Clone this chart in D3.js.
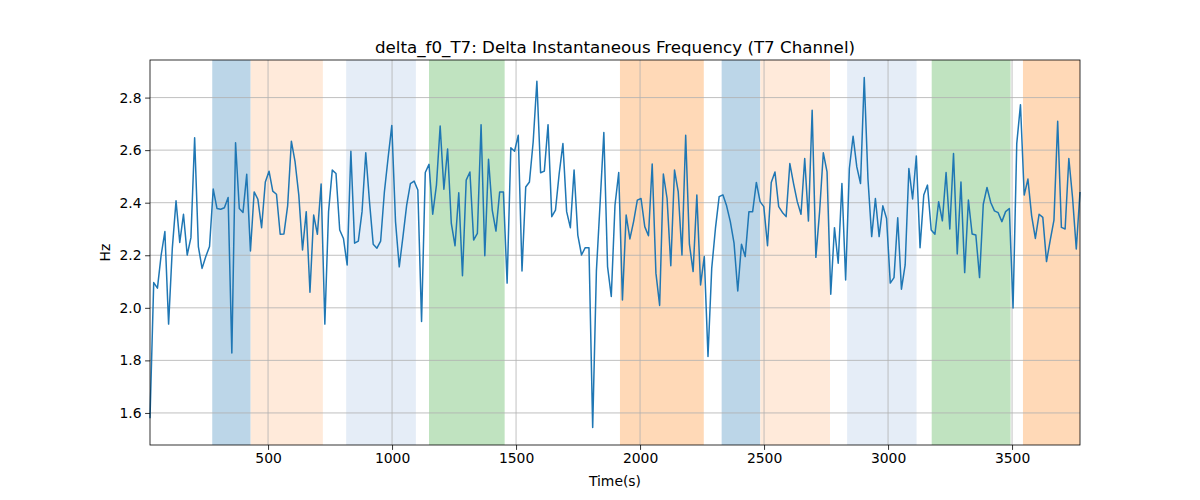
<!DOCTYPE html>
<html><head><meta charset="utf-8">
<script src="https://cdn.jsdelivr.net/npm/d3@7"></script>
<style>body{margin:0;background:#fff}svg{display:block}text{font-family:"DejaVu Sans",sans-serif}</style>
</head><body><svg id="c" width="1200" height="500"></svg>
<script>
const tStart = 24, tStep = 15;
const values = [1.58,2.096,2.075,2.201,2.29,1.938,2.227,2.407,2.249,2.356,2.201,2.267,2.647,2.233,2.15,2.195,2.233,2.452,2.378,2.375,2.381,2.42,1.828,2.628,2.378,2.363,2.508,2.216,2.441,2.413,2.305,2.479,
2.52,2.444,2.432,2.28,2.281,2.388,2.634,2.555,2.429,2.22,2.366,2.059,2.353,2.28,2.471,1.938,2.366,2.524,2.511,2.296,2.264,2.163,2.596,2.246,2.254,2.366,2.59,2.404,2.242,2.227,2.254,
2.44,2.57,2.694,2.328,2.156,2.271,2.391,2.473,2.482,2.448,1.948,2.515,2.546,2.356,2.467,2.692,2.451,2.604,2.321,2.236,2.438,2.122,2.486,2.517,2.258,2.283,2.697,2.198,2.565,
2.372,2.292,2.441,2.441,2.094,2.609,2.596,2.657,2.14,2.46,2.479,2.631,2.862,2.514,2.52,2.697,2.347,2.372,2.511,2.625,2.366,2.305,2.524,2.277,2.201,2.229,2.229,1.545,2.14,2.40,2.667,
2.157,2.043,2.391,2.515,2.03,2.353,2.262,2.328,2.41,2.416,2.309,2.274,2.547,2.132,2.009,2.509,2.416,2.16,2.524,2.441,2.201,2.657,2.242,2.138,2.429,2.087,2.195,1.815,2.15,2.302,2.423,
2.43,2.388,2.328,2.246,2.064,2.242,2.195,2.366,2.366,2.477,2.404,2.385,2.236,2.477,2.517,2.385,2.363,2.347,2.549,2.473,2.404,2.356,2.568,2.33,2.752,2.192,2.366,2.59,2.517,2.052,2.305,
2.17,2.473,2.106,2.53,2.653,2.536,2.473,2.876,2.49,2.271,2.416,2.271,2.388,2.34,2.094,2.115,2.343,2.071,2.163,2.53,2.414,2.578,2.229,2.429,2.467,2.296,2.28,2.404,2.331,2.515,2.3,
2.587,2.205,2.479,2.134,2.41,2.281,2.277,2.115,2.394,2.458,2.401,2.369,2.362,2.328,2.366,2.378,1.999,2.625,2.773,2.429,2.49,2.35,2.264,2.356,2.344,2.176,2.258,2.334,2.71,2.306,2.3,2.568,2.419,2.224,2.441];
const times = values.map((v,i)=>tStart + i*tStep);
const bandStarts = [275,430,815,1149,1919,2329,2485,2835,3176,3544];
const bandEnds   = [430,721,1096,1454,2257,2485,2766,3115,3494,3774];
const bandKinds  = ["blue","lorange","lblue","green","orange","blue","lorange","lblue","green","orange"];
const bandColors = {blue:"#bcd6e8", lorange:"#ffeada", lblue:"#e5edf7", green:"#c0e3c0", orange:"#ffd9b7"};
const xTicks = [500,1000,1500,2000,2500,3000,3500];
const yTicks = [1.6,1.8,2.0,2.2,2.4,2.6,2.8];
const title = "delta_f0_T7: Delta Instantaneous Frequency (T7 Channel)";

const svg = d3.select("#c");
const L=150, R=1080, T=60, B=445;
const x = d3.scaleLinear().domain([tStart, times[times.length-1]]).range([L,R]);
const y = d3.scaleLinear().domain([1.478, 2.943]).range([B,T]);

svg.append("g").selectAll("rect").data(bandStarts).join("rect")
  .attr("x",(d)=>x(d)).attr("width",(d,i)=>x(bandEnds[i])-x(d))
  .attr("y",T).attr("height",B-T).attr("fill",(d,i)=>bandColors[bandKinds[i]]);

const grid = svg.append("g").attr("stroke","#b0b0b0").attr("stroke-width",0.8);
grid.selectAll(".gx").data(xTicks).join("line").attr("x1",d=>x(d)).attr("x2",d=>x(d)).attr("y1",T).attr("y2",B);
grid.selectAll(".gy").data(yTicks).join("line").attr("y1",d=>y(d)).attr("y2",d=>y(d)).attr("x1",L).attr("x2",R);

svg.append("path").datum(values).attr("fill","none").attr("stroke","#1f77b4").attr("stroke-width",1.5)
  .attr("stroke-linejoin","round")
  .attr("d", d3.line().x((d,i)=>x(times[i])).y(d=>y(d)));

const xa = svg.append("g").attr("transform",`translate(0,${B})`)
  .call(d3.axisBottom(x).tickValues(xTicks).tickSize(4.9).tickPadding(3.5).tickFormat(d3.format("d")));
const ya = svg.append("g").attr("transform",`translate(${L},0)`)
  .call(d3.axisLeft(y).tickValues(yTicks).tickSize(4.9).tickPadding(3.5).tickFormat(d3.format(".1f")));
[xa,ya].forEach(a=>{a.select(".domain").remove(); a.selectAll("line").attr("stroke","#000").attr("stroke-width",0.8);
  a.selectAll("text").attr("font-size",13.9).attr("fill","#000").attr("font-family","DejaVu Sans");});

svg.append("rect").attr("x",L).attr("y",T).attr("width",R-L).attr("height",B-T)
  .attr("fill","none").attr("stroke","#000").attr("stroke-width",0.8);

svg.append("text").attr("x",(L+R)/2).attr("y",T-7).attr("text-anchor","middle").attr("font-size",16.7).text(title);
svg.append("text").attr("x",(L+R)/2).attr("y",486).attr("text-anchor","middle").attr("font-size",13.9).text("Time(s)");
svg.append("text").attr("transform",`translate(110,${(T+B)/2}) rotate(-90)`).attr("text-anchor","middle").attr("font-size",13.9).text("Hz");
</script></body></html>
